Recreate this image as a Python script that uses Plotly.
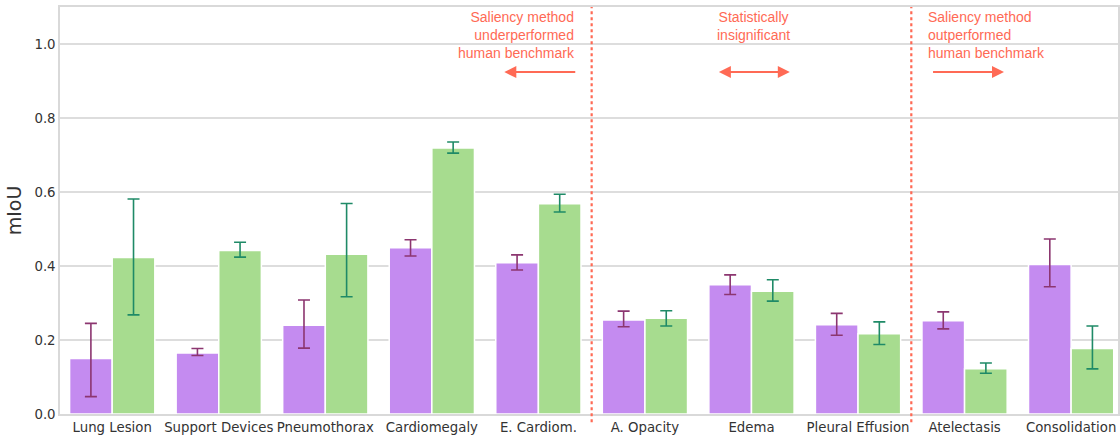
import plotly.graph_objects as go

categories = ["Lung Lesion", "Support Devices", "Pneumothorax", "Cardiomegaly", "E. Cardiom.",
              "A. Opacity", "Edema", "Pleural Effusion", "Atelectasis", "Consolidation"]
saliency = [0.150, 0.165, 0.240, 0.449, 0.409, 0.254, 0.349, 0.241, 0.252, 0.404]
saliency_lo = [0.047, 0.158, 0.178, 0.427, 0.389, 0.236, 0.323, 0.213, 0.230, 0.344]
saliency_hi = [0.245, 0.177, 0.308, 0.471, 0.430, 0.278, 0.376, 0.272, 0.276, 0.473]
human = [0.423, 0.442, 0.432, 0.719, 0.568, 0.259, 0.332, 0.217, 0.122, 0.177]
human_lo = [0.268, 0.424, 0.317, 0.705, 0.546, 0.238, 0.305, 0.188, 0.110, 0.122]
human_hi = [0.581, 0.464, 0.569, 0.735, 0.594, 0.279, 0.363, 0.249, 0.138, 0.238]
yticks = [0.0, 0.2, 0.4, 0.6, 0.8, 1.0]

PURPLE = "#c48bf0"
GREEN = "#a7dc8f"
PURPLE_ERR = "#8c3670"
GREEN_ERR = "#1f8a67"
RED = "#ff6a55"

fig = go.Figure()
fig.add_trace(go.Bar(
    x=categories, y=saliency, name="Saliency", marker=dict(color=PURPLE, line=dict(color="white", width=1.5)),
    error_y=dict(type="data", symmetric=False,
                 array=[h - v for h, v in zip(saliency_hi, saliency)],
                 arrayminus=[v - l for v, l in zip(saliency, saliency_lo)],
                 color=PURPLE_ERR, thickness=1.6, width=6)))
fig.add_trace(go.Bar(
    x=categories, y=human, name="Human", marker=dict(color=GREEN, line=dict(color="white", width=1.5)),
    error_y=dict(type="data", symmetric=False,
                 array=[h - v for h, v in zip(human_hi, human)],
                 arrayminus=[v - l for v, l in zip(human, human_lo)],
                 color=GREEN_ERR, thickness=1.6, width=6)))

for xv in [4.5, 7.5]:
    fig.add_shape(type="line", xref="x", yref="paper", x0=xv, x1=xv, y0=-0.02, y1=1,
                  line=dict(color=RED, width=2.2, dash="dot"))

font_ann = dict(family="Liberation Sans, Arial", size=14, color=RED)
fig.add_annotation(x=4.36, y=1.1, xref="x", yref="y", text="Saliency method<br>underperformed<br>human benchmark",
                   showarrow=False, xanchor="right", yanchor="top", align="right", font=font_ann)
fig.add_annotation(x=6.02, y=1.1, xref="x", yref="y", text="Statistically<br>insignificant",
                   showarrow=False, xanchor="center", yanchor="top", align="center", font=font_ann)
fig.add_annotation(x=7.64, y=1.1, xref="x", yref="y", text="Saliency method<br>outperformed<br>human benchmark",
                   showarrow=False, xanchor="left", yanchor="top", align="left", font=font_ann)

arrow_y = 0.924
fig.add_annotation(x=3.68, y=arrow_y, ax=4.36, ay=arrow_y, xref="x", yref="y", axref="x", ayref="y",
                   text="", showarrow=True, arrowhead=2, arrowsize=1.2, arrowwidth=2, arrowcolor=RED)
fig.add_annotation(x=6.36, y=arrow_y, ax=5.68, ay=arrow_y, xref="x", yref="y", axref="x", ayref="y",
                   text="", showarrow=True, arrowhead=2, startarrowhead=2, arrowside="end+start",
                   arrowsize=1.2, startarrowsize=1.2, arrowwidth=2, arrowcolor=RED)
fig.add_annotation(x=8.37, y=arrow_y, ax=7.69, ay=arrow_y, xref="x", yref="y", axref="x", ayref="y",
                   text="", showarrow=True, arrowhead=2, arrowsize=1.2, arrowwidth=2, arrowcolor=RED)

fig.update_layout(
    width=1120, height=439, margin=dict(l=60, r=0, t=7, b=25),
    plot_bgcolor="white", paper_bgcolor="white", showlegend=False,
    barmode="group", bargap=0.2, bargroupgap=0,
    font=dict(family="DejaVu Sans", size=13, color="#333333"),
    xaxis=dict(range=[-0.49, 9.44], showgrid=False, showline=True, linecolor="#d9d9d9", linewidth=1.5,
               mirror=True, ticks="", tickfont=dict(size=13.3, color="#333333")),
    yaxis=dict(range=[0, 1.1], tickvals=yticks, tickformat=".1f", showgrid=True, gridcolor="#dddddd",
               gridwidth=1.5, showline=True, linecolor="#d9d9d9", linewidth=1.5, mirror=True,
               zeroline=False, ticks="", tickfont=dict(size=13.3, color="#333333"),
               title=dict(text="mIoU", font=dict(size=19, color="#333333"), standoff=8)),
)
fig.write_html("out.html", config={"displayModeBar": False},
               post_script="document.body.style.margin='0';document.body.style.overflow='hidden';")
